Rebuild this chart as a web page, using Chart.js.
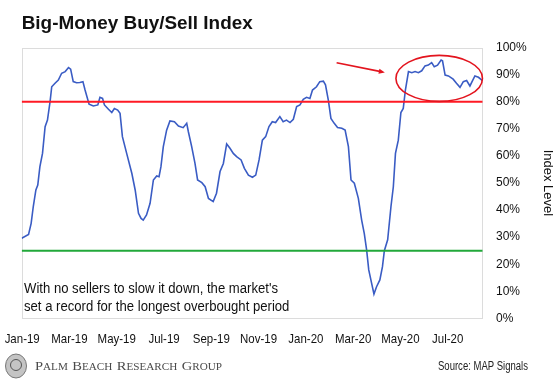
<!DOCTYPE html>
<html>
<head>
<meta charset="utf-8">
<script src="https://cdn.jsdelivr.net/npm/chart.js@4.4.0/dist/chart.umd.min.js"></script>
<style>
  html, body { margin: 0; padding: 0; background: #fff; }
</style>
</head>
<body>
<canvas id="canv" width="560" height="383"></canvas>
<script>
const SANS = '"Liberation Sans", Arial, Helvetica, sans-serif';
const SERIF = '"Liberation Serif", "Times New Roman", serif';

// x axis is months since Jan-19
const monthLabels = ['Jan-19', 'Mar-19', 'May-19', 'Jul-19', 'Sep-19', 'Nov-19', 'Jan-20', 'Mar-20', 'May-20', 'Jul-20'];
const monthTicks = [0, 2, 4, 6, 8, 10, 12, 14, 16, 18];
const xMin = -0.02;
const xMax = 19.48;

const months = [
  -0.02, 0.27, 0.38, 0.47, 0.58, 0.66, 0.75, 0.86, 0.97, 1.07, 1.18, 1.25, 1.39, 1.53, 1.67, 1.82, 1.96, 2.05,
  2.16, 2.30, 2.44, 2.57, 2.66, 2.83, 3.01, 3.20, 3.29, 3.40, 3.48, 3.65, 3.79, 3.90, 4.04, 4.14, 4.24, 4.42,
  4.64, 4.78, 4.92, 5.03, 5.12, 5.26, 5.41, 5.55, 5.69, 5.79, 5.87, 5.97, 6.11, 6.25, 6.44, 6.61, 6.81, 6.96,
  7.03, 7.17, 7.31, 7.42, 7.60, 7.74, 7.88, 8.08, 8.22, 8.37, 8.51, 8.65, 8.79, 8.93, 9.07, 9.26, 9.40, 9.57,
  9.74, 9.88, 10.02, 10.16, 10.30, 10.44, 10.58, 10.72, 10.90, 11.04, 11.18, 11.33, 11.47, 11.61, 11.75, 11.89,
  12.03, 12.17, 12.28, 12.45, 12.59, 12.74, 12.83, 12.95, 13.06, 13.20, 13.34, 13.52, 13.66, 13.80, 13.91, 14.05,
  14.22, 14.36, 14.47, 14.57, 14.66, 14.78, 14.88, 14.99, 15.13, 15.24, 15.32, 15.46, 15.60, 15.70, 15.79, 15.91,
  16.02, 16.12, 16.21, 16.34, 16.48, 16.62, 16.76, 16.90, 17.04, 17.18, 17.32, 17.43, 17.57, 17.72, 17.78, 17.89,
  18.03, 18.23, 18.37, 18.52, 18.66, 18.80, 18.94, 19.03, 19.15, 19.30, 19.47
];
const indexLevel = [
  29.6, 31.0, 35.1, 41.3, 47.4, 49.2, 56.0, 60.9, 70.8, 73.2, 80.0, 85.5, 86.8, 88.0, 90.5, 91.1, 92.6, 92.0,
  87.4, 87.0, 87.1, 87.4, 84.3, 79.1, 78.4, 78.8, 81.6, 81.2, 78.8, 77.2, 76.0, 77.5, 76.9, 75.7, 67.1, 60.9,
  53.5, 47.4, 38.8, 36.9, 36.3, 38.2, 42.5, 51.1, 52.6, 52.3, 56.0, 63.4, 69.5, 72.9, 72.6, 71.0, 70.4, 72.0,
  68.9, 63.4, 57.2, 51.1, 50.1, 48.6, 44.3, 43.1, 46.2, 54.2, 57.2, 64.4, 62.8, 60.9, 59.7, 58.5, 55.4, 52.9,
  52.1, 52.9, 58.5, 65.8, 67.1, 70.8, 72.6, 72.3, 74.5, 72.6, 73.2, 72.3, 73.5, 78.2, 78.8, 80.9,
  81.6, 81.2, 84.3, 85.5, 87.4, 87.6, 86.2, 80.6, 73.8, 72.0, 70.5, 70.2, 69.5, 63.4, 51.1, 49.9,
  44.3, 36.3, 31.4, 25.3, 17.9, 13.0, 9.0, 11.7, 14.2, 19.1, 25.0, 29.0, 41.3, 48.6, 60.9, 65.8,
  76.0, 77.5, 84.3, 91.1, 90.7, 91.1, 90.7, 91.4, 93.2, 93.5, 94.4, 92.9, 93.5, 95.4, 95.1, 89.8,
  89.5, 88.3, 86.8, 85.3, 87.4, 87.8, 85.8, 87.4, 89.5, 89.0, 87.8
];
const overbought = 80;
const oversold = 25;

// callout: ellipse around the recent run, arrow pointing at it (data coords)
const circleAt = { x: 17.64, y: 88.6, rx: 1.83, ry: 8.5 };
const arrowFrom = { x: 13.30, y: 94.4 };
const arrowTo = { x: 15.34, y: 90.8 };
const noteLines = ["With no sellers to slow it down, the market's", 'set a record for the longest overbought period'];

const series = months.map((m, i) => ({ x: m, y: indexLevel[i] }));

// where the plot box sits in the reference
const target = { left: 21.7, top: 47.5, right: 482.7, bottom: 318.4 };

function squeezeText(ctx, text, x, y, sx) {
  ctx.save();
  ctx.translate(x, y);
  ctx.scale(sx, 1);
  ctx.fillText(text, 0, 0);
  ctx.restore();
}
function fitText(ctx, text, x, y, width) {
  squeezeText(ctx, text, x, y, width / ctx.measureText(text).width);
}

const extras = {
  id: 'extras',
  beforeDatasetsDraw(chart) {
    const { ctx, chartArea: a } = chart;
    ctx.save();
    ctx.strokeStyle = '#dcdcdc';
    ctx.lineWidth = 1;
    ctx.strokeRect(Math.round(a.left) + 0.5, Math.round(a.top) + 0.5, Math.round(a.right - a.left) - 1, Math.round(a.bottom - a.top) - 1);
    ctx.restore();
  },
  afterDatasetsDraw(chart) {
    const { ctx, scales: { x, y } } = chart;
    ctx.save();
    ctx.strokeStyle = '#e3141e';
    ctx.fillStyle = '#e3141e';
    ctx.lineWidth = 1.6;
    const cx = x.getPixelForValue(circleAt.x), cy = y.getPixelForValue(circleAt.y);
    const rx = x.getPixelForValue(circleAt.x + circleAt.rx) - cx;
    const ry = cy - y.getPixelForValue(circleAt.y + circleAt.ry);
    ctx.beginPath();
    ctx.ellipse(cx, cy, rx, ry, 0, 0, Math.PI * 2);
    ctx.stroke();

    const x0 = x.getPixelForValue(arrowFrom.x), y0 = y.getPixelForValue(arrowFrom.y);
    const x1 = x.getPixelForValue(arrowTo.x), y1 = y.getPixelForValue(arrowTo.y);
    const ang = Math.atan2(y1 - y0, x1 - x0);
    const c = Math.cos(ang), s = Math.sin(ang);
    ctx.beginPath();
    ctx.moveTo(x0, y0);
    ctx.lineTo(x1 - 4 * c, y1 - 4 * s);
    ctx.stroke();
    ctx.beginPath();
    ctx.moveTo(x1, y1);
    ctx.lineTo(x1 - 6 * c + 2.5 * s, y1 - 6 * s - 2.5 * c);
    ctx.lineTo(x1 - 6 * c - 2.5 * s, y1 - 6 * s + 2.5 * c);
    ctx.closePath();
    ctx.fill();

    ctx.fillStyle = '#111';
    ctx.font = '14px ' + SANS;
    ctx.textBaseline = 'alphabetic';
    fitText(ctx, noteLines[0], 24, 293, 254);
    fitText(ctx, noteLines[1], 24, 311, 254 * ctx.measureText(noteLines[1]).width / ctx.measureText(noteLines[0]).width);
    ctx.restore();
  },
  afterDraw(chart) {
    const { ctx, scales: { x } } = chart;
    ctx.save();
    ctx.fillStyle = '#111';
    ctx.textBaseline = 'alphabetic';

    // title
    ctx.font = 'bold 19px ' + SANS;
    fitText(ctx, 'Big-Money Buy/Sell Index', 21.7, 29, 231);

    // month labels
    ctx.font = '13.5px ' + SANS;
    ctx.textAlign = 'center';
    monthTicks.forEach((t, i) => squeezeText(ctx, monthLabels[i], x.getPixelForValue(t), 343, 0.85));
    ctx.textAlign = 'left';

    // emblem
    ctx.fillStyle = '#c4c4c4';
    ctx.strokeStyle = '#777';
    ctx.lineWidth = 1;
    ctx.beginPath();
    ctx.ellipse(16, 366, 10.5, 12, 0, 0, Math.PI * 2);
    ctx.fill();
    ctx.stroke();
    ctx.strokeStyle = '#555';
    ctx.beginPath();
    ctx.arc(16, 365, 5.5, 0, Math.PI * 2);
    ctx.stroke();

    // small caps wordmark
    const words = ['PALM', 'BEACH', 'RESEARCH', 'GROUP'];
    const big = '13px ' + SERIF, small = '10px ' + SERIF;
    let total = 0;
    words.forEach((w, i) => {
      ctx.font = big; total += ctx.measureText(w[0]).width;
      ctx.font = small; total += ctx.measureText(w.slice(1)).width;
      if (i < words.length - 1) total += 4;
    });
    ctx.save();
    ctx.translate(35, 369.5);
    ctx.scale(187 / total, 1);
    ctx.fillStyle = '#4a4a4a';
    let px = 0;
    words.forEach(w => {
      ctx.font = big; ctx.fillText(w[0], px, 0); px += ctx.measureText(w[0]).width;
      ctx.font = small; ctx.fillText(w.slice(1), px, 0); px += ctx.measureText(w.slice(1)).width + 4;
    });
    ctx.restore();

    ctx.fillStyle = '#222';
    ctx.font = '12px ' + SANS;
    fitText(ctx, 'Source: MAP Signals', 438, 369.5, 90);
    ctx.restore();
  }
};

Chart.defaults.font.family = SANS;
Chart.defaults.color = '#111';

const chart = new Chart(document.getElementById('canv').getContext('2d'), {
  type: 'line',
  data: {
    datasets: [
      { data: series, borderColor: '#3a5cc4', borderWidth: 1.6, pointRadius: 0, tension: 0, order: 2 },
      { data: [{ x: xMin, y: overbought }, { x: xMax, y: overbought }], borderColor: '#ff1a24', borderWidth: 2, pointRadius: 0, order: 1 },
      { data: [{ x: xMin, y: oversold }, { x: xMax, y: oversold }], borderColor: '#22a83a', borderWidth: 2, pointRadius: 0, order: 1 }
    ]
  },
  options: {
    responsive: false,
    animation: false,
    devicePixelRatio: 1,
    layout: { padding: { left: 21.7, right: 0, top: 47.5, bottom: 34.6 } },
    plugins: {
      legend: { display: false },
      tooltip: { enabled: false },
      title: { display: false }
    },
    scales: {
      x: {
        type: 'linear',
        min: xMin,
        max: xMax,
        grid: { display: false, drawTicks: false },
        border: { display: false },
        afterBuildTicks: s => { s.ticks = monthTicks.map(v => ({ value: v })); },
        afterFit: s => { s.height = 30; },
        ticks: { display: false }
      },
      y: {
        position: 'right',
        min: 0,
        max: 100,
        grid: { display: false, drawTicks: false },
        border: { display: false },
        afterFit: s => { s.width = 77.3; },
        ticks: { stepSize: 10, padding: 13.3, font: { size: 12 }, color: '#111', callback: v => v + '%' },
        title: { display: true, text: 'Index Level', color: '#111', font: { size: 13 }, padding: { top: 4.2, bottom: 0 } }
      }
    }
  },
  plugins: [extras]
});

// nudge the layout padding so the plot box lands where it is in the reference
for (let i = 0; i < 3; i++) {
  const a = chart.chartArea;
  const p = chart.options.layout.padding;
  p.left += target.left - a.left;
  p.top += target.top - a.top;
  p.right += a.right - target.right;
  p.bottom += a.bottom - target.bottom;
  chart.update();
}
</script>
</body>
</html>
